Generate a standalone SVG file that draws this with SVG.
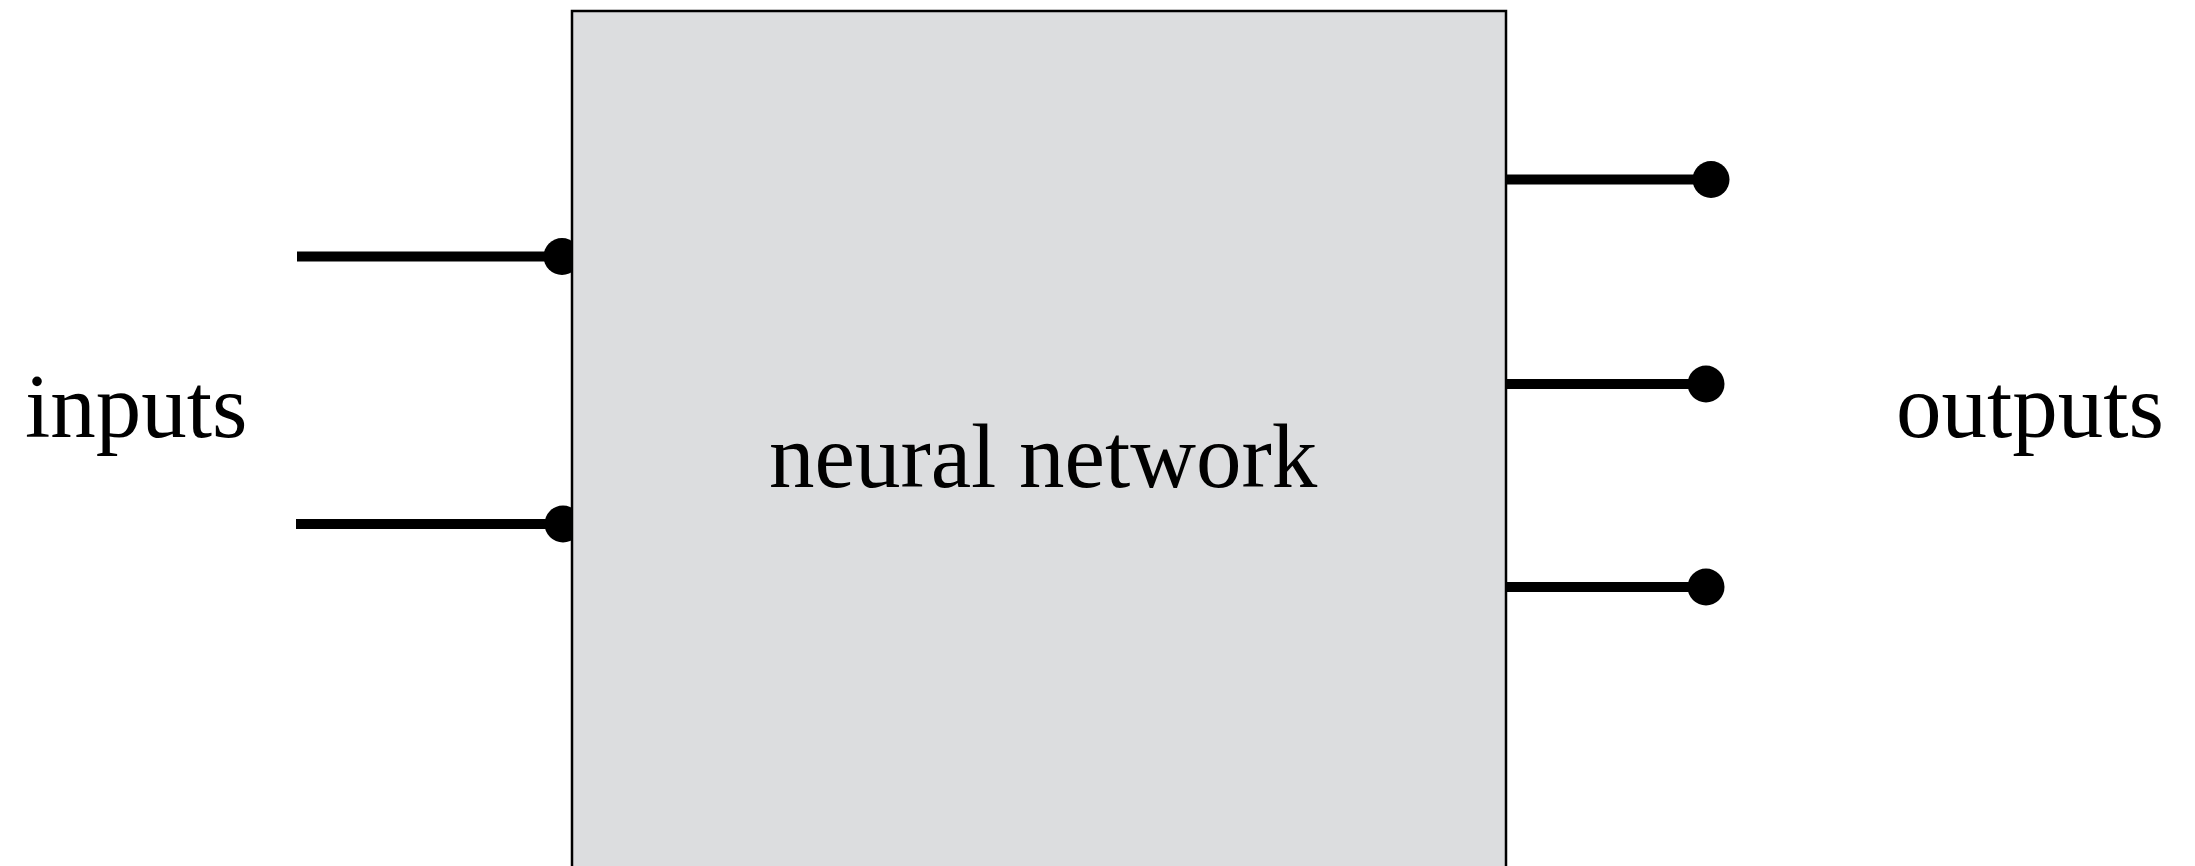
<svg xmlns="http://www.w3.org/2000/svg" width="2195" height="866" viewBox="0 0 2195 866">
<style>
.lbl{font-family:"Liberation Serif","Times New Roman",serif;font-size:91px;fill:#000}
.wire{stroke:#000;stroke-width:10;fill:none}
.dot{fill:#000}
</style>
<rect width="2195" height="866" fill="#fff"/>
<g id="connectors">
<line class="wire" x1="297" y1="256.5" x2="562" y2="256.5"/>
<circle class="dot" cx="562" cy="256.5" r="18.5"/>
<line class="wire" x1="296" y1="524" x2="563" y2="524"/>
<circle class="dot" cx="563" cy="524" r="18.5"/>
<line class="wire" x1="1506" y1="179.5" x2="1711" y2="179.5"/>
<circle class="dot" cx="1711" cy="179.5" r="18.5"/>
<line class="wire" x1="1506" y1="384" x2="1706" y2="384"/>
<circle class="dot" cx="1706" cy="384" r="18.5"/>
<line class="wire" x1="1506" y1="587" x2="1706" y2="587"/>
<circle class="dot" cx="1706" cy="587" r="18.5"/>
</g>
<g id="neural-network">
<rect x="572" y="11" width="934" height="900" fill="#dcdddf" stroke="#000" stroke-width="2.5"/>
<text class="lbl" x="769" y="487">neural network</text>
</g>
<g id="inputs">
<text class="lbl" x="25" y="437">inputs</text>
</g>
<g id="outputs">
<text class="lbl" x="1896" y="437">outputs</text>
</g>
</svg>
